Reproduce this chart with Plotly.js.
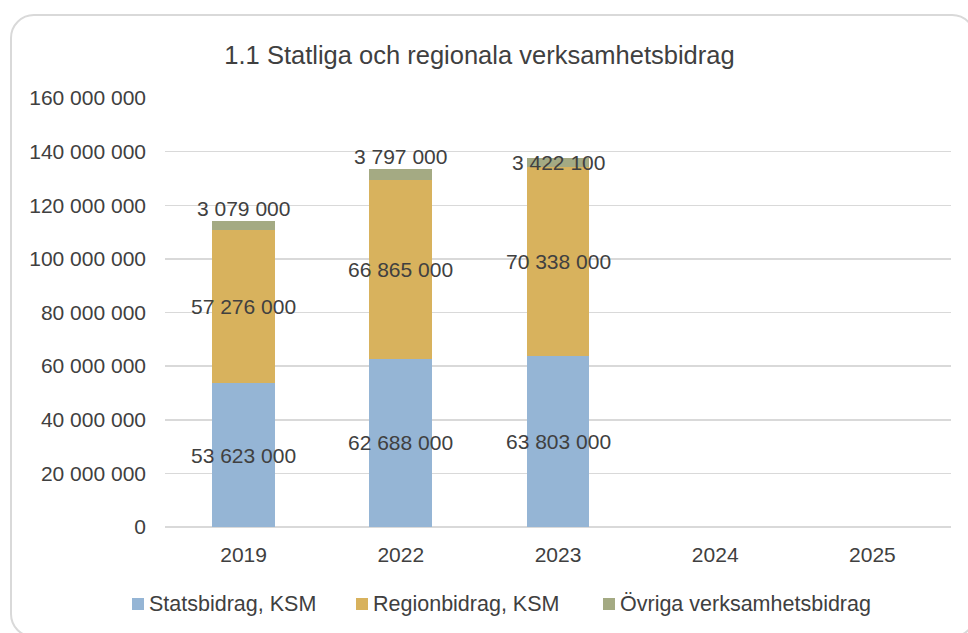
<!DOCTYPE html>
<html>
<head>
<meta charset="utf-8">
<script src="https://cdn.plot.ly/plotly-3.0.1.min.js"></script>
<style>
html,body{margin:0;padding:0;background:#fff;width:968px;height:633px;overflow:hidden;}
#frame{position:absolute;left:10px;top:14px;width:966px;height:624px;border:2px solid #d9d9d9;border-radius:24px;box-sizing:border-box;}
#chart{position:absolute;left:0;top:0;width:968px;height:633px;}
</style>
</head>
<body>
<div id="frame"></div>
<div id="chart"></div>
<script>
const categories = ['2019', '2022', '2023', '2024', '2025'];
const statsbidrag = [53623000, 62688000, 63803000, null, null];
const regionbidrag = [57276000, 66865000, 70338000, null, null];
const ovriga = [3079000, 3797000, 3422100, null, null];
const seriesNames = ['Statsbidrag, KSM', 'Regionbidrag, KSM', 'Övriga verksamhetsbidrag'];
const colors = ['#95b5d5', '#d8b25d', '#a4aa83'];

// layout / style constants
const topLabelShift = [-1, -1, -18, 0, 0];
const M = {l: 165, r: 17, t: 98, b: 106};
const W = 968, H = 633;
const legendPx = [132, 356, 603];
const legendPy = 604;
const FONT = 'Liberation Sans, Arial, sans-serif';
const TXT = '#404040';

function fmt(v){ return String(v).replace(/\B(?=(\d{3})+(?!\d))/g, ' '); }
function px2paperX(px){ return (px - M.l) / (W - M.l - M.r); }
function px2paperY(py){ return (H - M.b - py) / (H - M.t - M.b); }

const series = [statsbidrag, regionbidrag, ovriga];
const traces = series.map((vals, i) => ({
  type: 'bar', name: seriesNames[i], x: categories, y: vals,
  marker: {color: colors[i]}, width: 0.4, hoverinfo: 'none'
}));

const annotations = [];
categories.forEach((c, j) => {
  let base = 0;
  series.forEach((vals, i) => {
    const v = vals[j];
    if (v == null) return;
    if (i < 2) {
      annotations.push({x: j, y: base + v / 2, text: fmt(v), showarrow: false,
        font: {size: 21, color: TXT}, yanchor: 'middle'});
    } else {
      annotations.push({x: j, y: base + v, text: fmt(v), showarrow: false,
        font: {size: 21, color: TXT}, yanchor: 'bottom', yshift: topLabelShift[j]});
    }
    base += v;
  });
});

// manual legend
const shapes = [];
seriesNames.forEach((name, i) => {
  shapes.push({type: 'rect', xref: 'paper', yref: 'paper',
    x0: px2paperX(legendPx[i]), x1: px2paperX(legendPx[i] + 12),
    y0: px2paperY(legendPy - 6), y1: px2paperY(legendPy + 6),
    fillcolor: colors[i], line: {width: 0}});
  annotations.push({xref: 'paper', yref: 'paper', x: px2paperX(legendPx[i] + 15),
    y: px2paperY(legendPy), xanchor: 'left', yanchor: 'middle', showarrow: false,
    text: name, font: {size: 21.5, color: TXT}});
});

const layout = {
  width: W, height: H,
  paper_bgcolor: 'rgba(0,0,0,0)', plot_bgcolor: 'rgba(0,0,0,0)',
  margin: M,
  separators: ', ',
  barmode: 'stack',
  font: {family: FONT, color: TXT, size: 21},
  title: {text: '1.1 Statliga och regionala verksamhetsbidrag', xref: 'container', yref: 'container',
    x: 479.5 / W, xanchor: 'center', y: 1 - 55 / H, yanchor: 'middle',
    font: {size: 25.5, color: TXT}},
  xaxis: {type: 'category', categoryorder: 'array', categoryarray: categories,
    range: [-0.5, categories.length - 0.5],
    showgrid: false, ticks: '', showline: false, zeroline: false, ticklabelstandoff: 13,
    tickfont: {size: 21, color: TXT}},
  yaxis: {range: [0, 160000000], dtick: 20000000, tickformat: ',d', showgrid: true,
    gridcolor: '#d9d9d9', gridwidth: 1.5, zeroline: true, zerolinecolor: '#d9d9d9', zerolinewidth: 1.5,
    showline: false, ticks: '', ticklabelstandoff: 18, tickfont: {size: 21, color: TXT}},
  showlegend: false,
  shapes: shapes,
  annotations: annotations
};

Plotly.newPlot('chart', traces, layout, {displayModeBar: false, staticPlot: true});
</script>
</body>
</html>
